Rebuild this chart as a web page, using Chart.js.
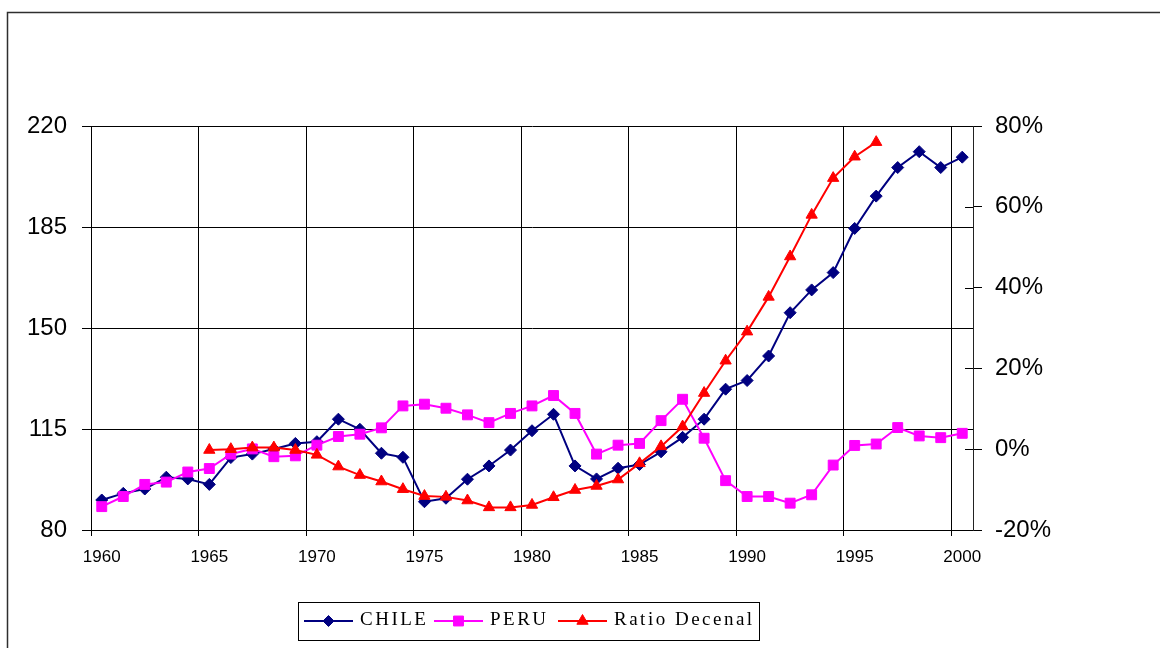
<!DOCTYPE html>
<html>
<head>
<meta charset="utf-8">
<script src="https://cdn.jsdelivr.net/npm/chart.js@4.4.1/dist/chart.umd.min.js"></script>
<style>
html,body{margin:0;padding:0;background:#fff;}
canvas{display:block;}
</style>
</head>
<body>
<canvas id="c" width="1160" height="648"></canvas>
<script>
// ---------- DATA ----------
const years = ['1960','1961','1962','1963','1964','1965','1966','1967','1968','1969',
               '1970','1971','1972','1973','1974','1975','1976','1977','1978','1979',
               '1980','1981','1982','1983','1984','1985','1986','1987','1988','1989',
               '1990','1991','1992','1993','1994','1995','1996','1997','1998','1999','2000'];

const chile = [90.4, 92.7, 94.2, 98.3, 97.7, 95.8, 105.1, 106.3, 108.1, 110.0,
               110.6, 118.4, 114.9, 106.6, 105.2, 89.8, 91.0, 97.6, 102.2, 107.7,
               114.4, 120.1, 102.2, 97.7, 101.4, 102.7, 107.1, 112.1, 118.4, 128.8,
               131.8, 140.3, 155.3, 163.2, 169.2, 184.5, 195.7, 205.6, 211.1, 205.6, 209.2];

const peru = [88.1, 91.6, 95.8, 96.6, 100.1, 101.3, 106.3, 108.1, 105.4, 105.7,
              109.4, 112.4, 113.2, 115.4, 123.0, 123.6, 122.2, 119.9, 117.2, 120.4,
              123.0, 126.6, 120.4, 106.3, 109.4, 110.0, 117.9, 125.3, 111.8, 97.1,
              91.6, 91.6, 89.3, 92.2, 102.5, 109.3, 109.8, 115.5, 112.6, 112.0, 113.5];

// percent values (right axis)
const ratioDecenal = [null, null, null, null, null, -0.2, 0.0, 0.4, 0.4, -0.2,
                      -1.4, -4.3, -6.4, -8.0, -9.9, -11.6, -11.8, -12.7, -14.4, -14.4,
                      -13.8, -11.9, -10.1, -9.1, -7.5, -3.5, 0.7, 5.6, 13.9, 21.9,
                      29.1, 37.7, 47.7, 58.0, 67.1, 72.4, 76.0, null, null, null, null];

const seriesNames = ['CHILE', 'PERU', 'Ratio Decenal'];

const leftMin = 80, leftMax = 220, leftStep = 35;
const rightMin = -20, rightMax = 80, rightStep = 20;
const labelEvery = 5;

// ---------- DECORATION PLUGIN ----------
function markerPath(ctx, style, x, y, r) {
  ctx.beginPath();
  if (style === 'rectRot') {
    ctx.moveTo(x - r, y); ctx.lineTo(x, y - r); ctx.lineTo(x + r, y); ctx.lineTo(x, y + r);
  } else if (style === 'rect') {
    const h = r * Math.SQRT1_2;
    ctx.rect(x - h, y - h, 2 * h, 2 * h);
  } else {
    const w = r * Math.sqrt(3) / 2;
    ctx.moveTo(x, y - r); ctx.lineTo(x + w, y + r / 2); ctx.lineTo(x - w, y + r / 2);
  }
  ctx.closePath();
}

const decor = {
  id: 'decor',
  beforeDatasetsDraw(chart) {
    // inner half of the "cross" tick marks on the right axis
    const ctx = chart.ctx, s = chart.scales.y2, a = chart.chartArea;
    ctx.save();
    ctx.strokeStyle = '#000';
    ctx.lineWidth = 1;
    s.ticks.forEach(t => {
      const y = Math.round(s.getPixelForValue(t.value)) + 0.5;
      ctx.beginPath();
      ctx.moveTo(a.right - 8, y);
      ctx.lineTo(a.right, y);
      ctx.stroke();
    });
    ctx.restore();
  },
  afterDraw(chart) {
    const ctx = chart.ctx;
    ctx.save();
    // outer chart frame
    ctx.strokeStyle = '#2e2e2e';
    ctx.lineWidth = 1.5;
    ctx.beginPath();
    ctx.moveTo(7.5, 648); ctx.lineTo(7.5, 12.5); ctx.lineTo(1160, 12.5);
    ctx.stroke();

    // legend box
    ctx.strokeStyle = '#000';
    ctx.lineWidth = 1;
    ctx.strokeRect(298.5, 602.5, 461, 38);

    const cy = 621;
    const starts = [304, 434, 558];
    ctx.font = '19px "Liberation Serif", "DejaVu Serif", serif';
    ctx.textBaseline = 'middle';
    ctx.textAlign = 'left';
    try { ctx.letterSpacing = '2.5px'; } catch (e) {}
    chart.data.datasets.forEach((ds, i) => {
      const x0 = starts[i];
      ctx.strokeStyle = ds.borderColor;
      ctx.lineWidth = 2;
      ctx.beginPath();
      ctx.moveTo(x0, cy); ctx.lineTo(x0 + 49, cy);
      ctx.stroke();
      ctx.fillStyle = ds.pointBackgroundColor;
      ctx.strokeStyle = ds.borderColor;
      ctx.lineWidth = 1;
      const r = ds.pointStyle === 'rect' ? 7 : (ds.pointStyle === 'triangle' ? 6.5 : 5.5);
      markerPath(ctx, ds.pointStyle, x0 + 24.5, cy, r);
      ctx.fill(); ctx.stroke();
      ctx.fillStyle = '#000';
      ctx.fillText(ds.label, x0 + 56, cy - 1);
    });
    ctx.restore();
  }
};

// ---------- CHART ----------
const gridColorEvery = (ctx) => (ctx.index % labelEvery === 0 ? '#000' : 'rgba(0,0,0,0)');

new Chart(document.getElementById('c'), {
  type: 'line',
  data: {
    labels: years,
    datasets: [
      {
        label: seriesNames[0], data: chile, yAxisID: 'y', order: 3,
        borderColor: '#000080', backgroundColor: '#000080', pointBackgroundColor: '#000080',
        borderWidth: 2, pointStyle: 'rectRot', pointRadius: 6, pointBorderWidth: 1,
        tension: 0, fill: false
      },
      {
        label: seriesNames[1], data: peru, yAxisID: 'y', order: 2,
        borderColor: '#ff00ff', backgroundColor: '#ff00ff', pointBackgroundColor: '#ff00ff',
        borderWidth: 2, pointStyle: 'rect', pointRadius: 7, pointBorderWidth: 1,
        tension: 0, fill: false
      },
      {
        label: seriesNames[2], data: ratioDecenal, yAxisID: 'y2', order: 1,
        borderColor: '#ff0000', backgroundColor: '#ff0000', pointBackgroundColor: '#ff0000',
        borderWidth: 2, pointStyle: 'triangle', pointRadius: 6.5, pointBorderWidth: 1,
        tension: 0, fill: false, spanGaps: false
      }
    ]
  },
  options: {
    responsive: false,
    animation: false,
    devicePixelRatio: 1,
    layout: { padding: { top: 126, left: 0, right: 0, bottom: 0 } },
    plugins: { legend: { display: false }, tooltip: { enabled: false } },
    scales: {
      x: {
        type: 'category',
        offset: true,
        grid: { offset: true, color: gridColorEvery, tickColor: gridColorEvery, lineWidth: 1, tickLength: 6 },
        border: { color: '#000', width: 1 },
        ticks: {
          autoSkip: false, maxRotation: 0, minRotation: 0, padding: 11,
          color: '#000',
          font: { family: '"Liberation Sans", Arial, sans-serif', size: 17 },
          callback: function (v, i) { return i % labelEvery === 0 ? this.getLabelForValue(v) : ''; }
        },
        afterFit: (s) => { s.height = 118; }
      },
      y: {
        position: 'left',
        min: leftMin, max: leftMax,
        grid: { color: '#000', lineWidth: 1, tickLength: 9, tickColor: '#000' },
        border: { color: '#000', width: 1 },
        ticks: {
          stepSize: leftStep, padding: 15, color: '#000',
          font: { family: '"Liberation Sans", Arial, sans-serif', size: 24 }
        },
        afterFit: (s) => { s.width = 91; }
      },
      y2: {
        position: 'right',
        min: rightMin, max: rightMax,
        grid: { drawOnChartArea: false, tickLength: 9, tickColor: '#000', color: '#000' },
        border: { color: '#222', width: 1 },
        ticks: {
          stepSize: rightStep, padding: 13, color: '#000',
          font: { family: '"Liberation Sans", Arial, sans-serif', size: 24 },
          callback: (v) => v + '%'
        },
        afterFit: (s) => { s.width = 187; }
      }
    }
  },
  plugins: [decor]
});
</script>
</body>
</html>
